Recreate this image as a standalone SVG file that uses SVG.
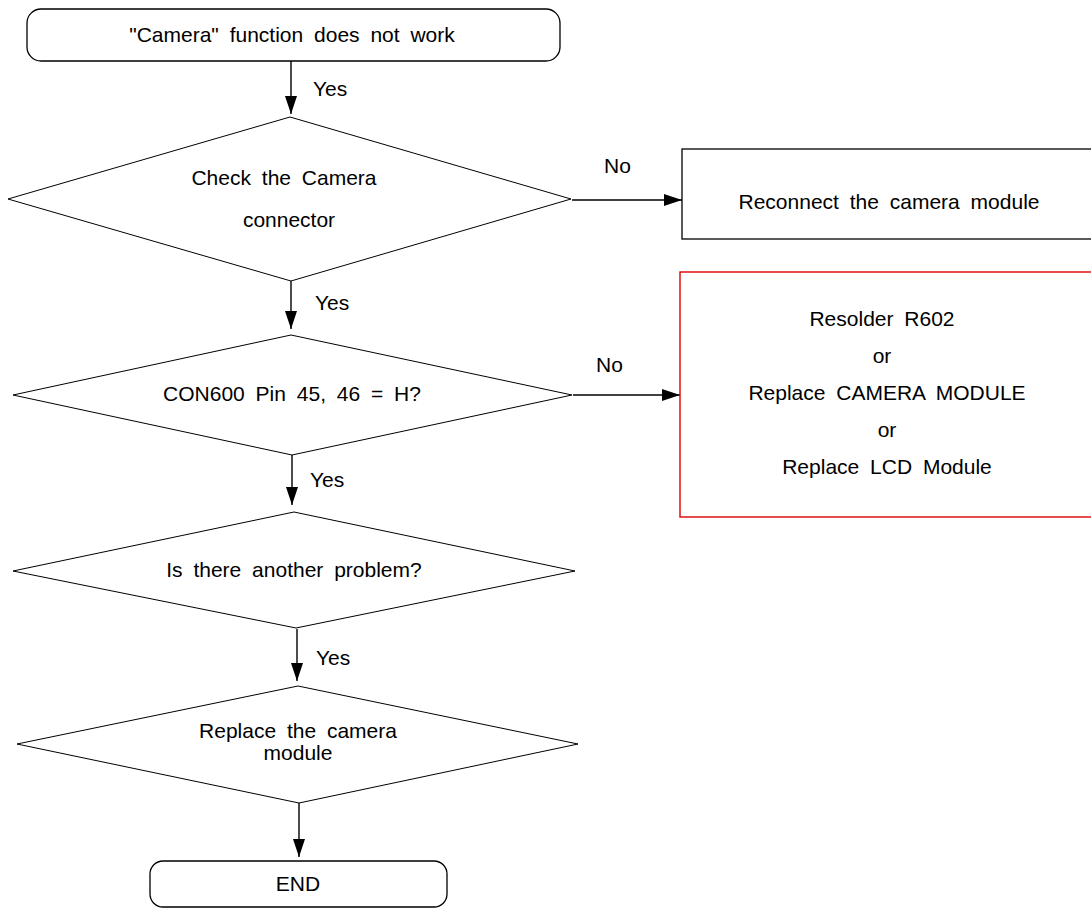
<svg xmlns="http://www.w3.org/2000/svg" width="1091" height="908" viewBox="0 0 1091 908">
<style>
.t{font-family:"Liberation Sans",Arial,sans-serif;font-size:21px;word-spacing:5px;fill:#000;text-anchor:middle}
.l{font-family:"Liberation Sans",Arial,sans-serif;font-size:21px;fill:#000}
.shape{fill:#fff;stroke:#000;stroke-width:1.3}
.dia{fill:#fff;stroke:#000;stroke-width:1}
.red{fill:#fff;stroke:#e00000;stroke-width:1.4}
.c{stroke:#000;stroke-width:1.4;fill:none;marker-end:url(#ah)}
</style>
<defs>
<marker id="ah" markerUnits="userSpaceOnUse" markerWidth="18" markerHeight="12" refX="18" refY="6" orient="auto">
<path d="M0,0 L18,6 L0,12 z" fill="#000"/>
</marker>
</defs>
<rect width="1091" height="908" fill="#fff"/>
<g id="connectors">
<line class="c" x1="291" y1="61" x2="291" y2="114"/>
<line class="c" x1="291" y1="281" x2="291" y2="329"/>
<line class="c" x1="292" y1="455" x2="292" y2="505"/>
<line class="c" x1="297" y1="629" x2="297" y2="681"/>
<line class="c" x1="299" y1="803" x2="299" y2="857"/>
<line class="c" x1="572" y1="200" x2="682" y2="200"/>
<line class="c" x1="573" y1="395" x2="680" y2="395"/>
<text class="l" x="313" y="96">Yes</text>
<text class="l" x="315" y="310">Yes</text>
<text class="l" x="310" y="487">Yes</text>
<text class="l" x="316" y="665">Yes</text>
<text class="l" x="604" y="173">No</text>
<text class="l" x="596" y="372">No</text>
</g>
<g id="start">
<rect class="shape" x="27" y="9" width="533" height="52" rx="14" ry="14"/>
<text class="t" x="292" y="42">"Camera" function does not work</text>
</g>
<g id="check-connector">
<polygon class="dia" points="290,117 571,199 291,281 8,199"/>
<text class="t" x="284" y="185">Check the Camera</text>
<text class="t" x="289" y="227">connector</text>
</g>
<g id="reconnect">
<rect class="shape" x="682" y="149" width="420" height="90"/>
<text class="t" x="889" y="209">Reconnect the camera module</text>
</g>
<g id="con600">
<polygon class="dia" points="291,335 572,395 292,455 13,395"/>
<text class="t" x="292" y="401">CON600 Pin 45, 46 = H?</text>
</g>
<g id="resolder">
<rect class="red" x="680" y="272" width="420" height="245"/>
<text class="t" x="882" y="326">Resolder R602</text>
<text class="t" x="882" y="363">or</text>
<text class="t" x="887" y="400">Replace CAMERA MODULE</text>
<text class="t" x="887" y="437">or</text>
<text class="t" x="887" y="474">Replace LCD Module</text>
</g>
<g id="another-problem">
<polygon class="dia" points="294,512 575,571 296,628 13,571"/>
<text class="t" x="294" y="577">Is there another problem?</text>
</g>
<g id="replace-camera">
<polygon class="dia" points="298,686 578,744 299,803 17,744"/>
<text class="t" x="298" y="738">Replace the camera</text>
<text class="t" x="298" y="760">module</text>
</g>
<g id="end">
<rect class="shape" x="150" y="861" width="297" height="46" rx="13" ry="13"/>
<text class="t" x="298" y="891">END</text>
</g>
</svg>
